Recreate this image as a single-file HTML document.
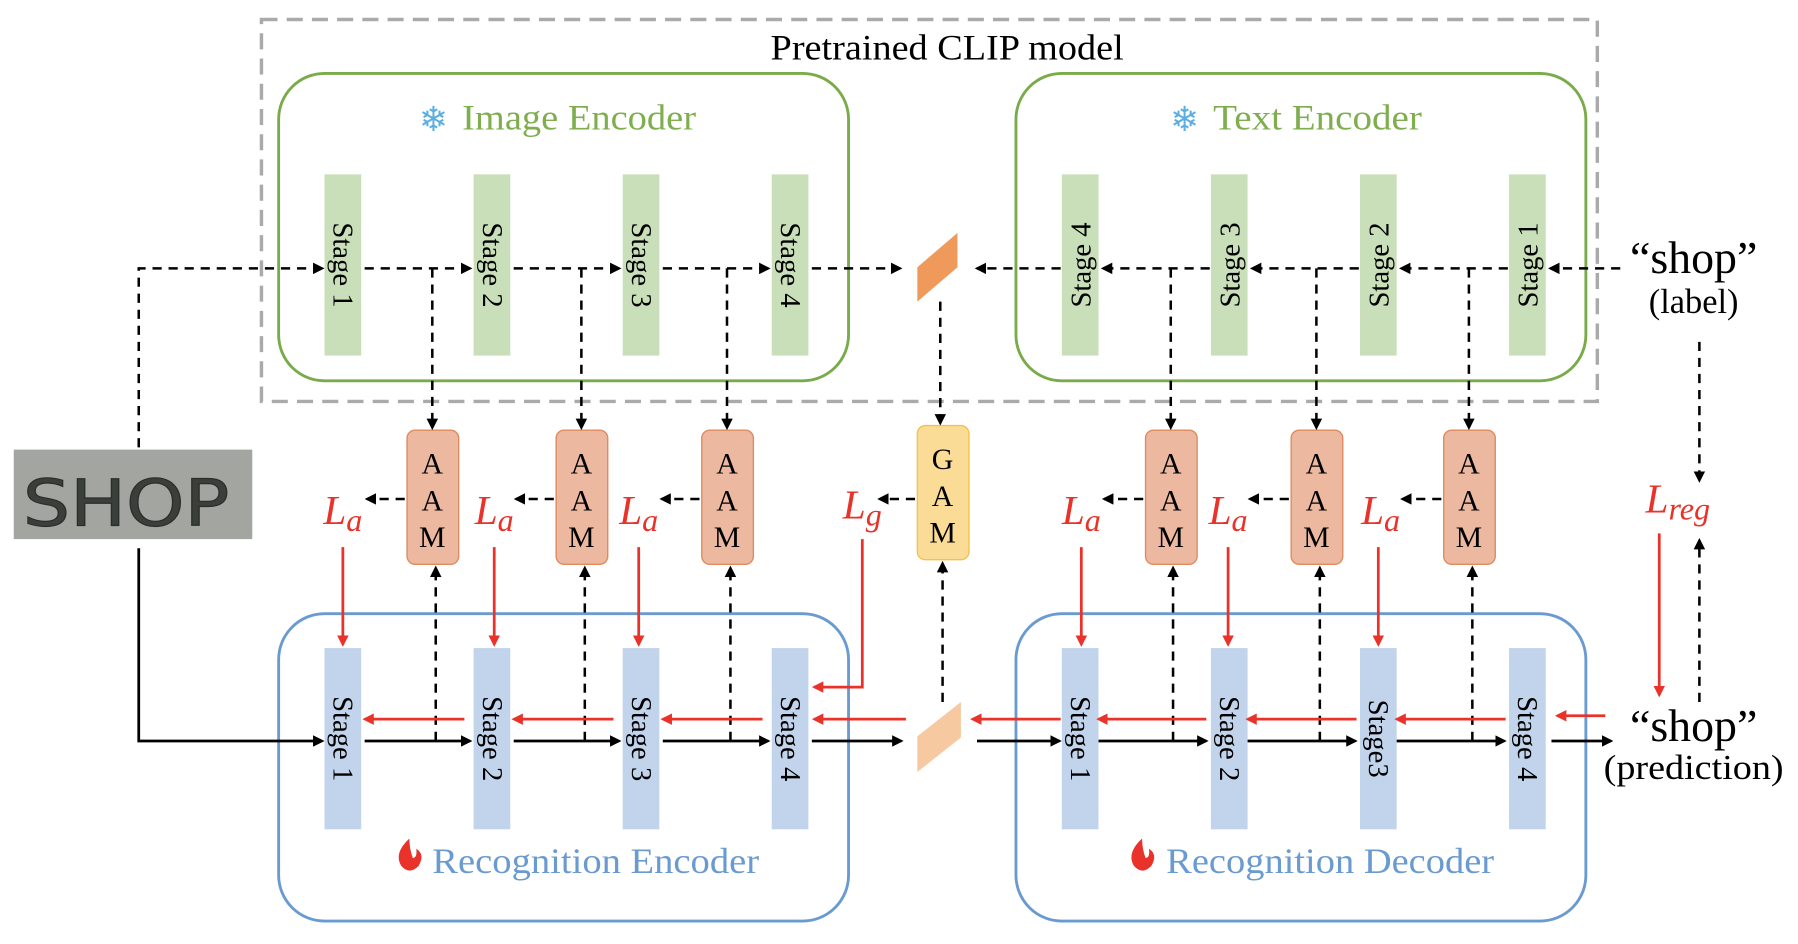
<!DOCTYPE html>
<html><head><meta charset="utf-8"><style>html,body{margin:0;padding:0;background:#fff}svg{display:block}</style></head><body>
<svg width="1798" height="944" viewBox="0 0 1568 823" preserveAspectRatio="none" xmlns="http://www.w3.org/2000/svg" font-family="Liberation Serif, serif">
<defs>
<marker id="ak" markerWidth="10" markerHeight="10" refX="8" refY="5" orient="auto" markerUnits="userSpaceOnUse"><path d="M0,0 L10,5 L0,10 z" fill="#000"/></marker>
<marker id="ar" markerWidth="10" markerHeight="10" refX="8" refY="5" orient="auto" markerUnits="userSpaceOnUse"><path d="M0,0 L10,5 L0,10 z" fill="#e8322a"/></marker>
</defs>
<rect x="228" y="17" width="1165" height="333" fill="none" stroke="#aaa" stroke-width="3" stroke-dasharray="14,8"/>
<text x="826" y="52" font-size="31" text-anchor="middle" textLength="308" lengthAdjust="spacingAndGlyphs">Pretrained CLIP model</text>
<rect x="243" y="64" width="497" height="268" rx="40" fill="none" stroke="#7aab4a" stroke-width="2.5"/>
<rect x="886" y="64" width="497" height="268" rx="40" fill="none" stroke="#7aab4a" stroke-width="2.5"/>
<text x="403" y="113" font-size="31" fill="#7fae4f" textLength="204" lengthAdjust="spacingAndGlyphs">Image Encoder</text>
<text x="1058" y="113" font-size="31" fill="#7fae4f" textLength="182" lengthAdjust="spacingAndGlyphs">Text Encoder</text>
<text x="378" y="114" font-size="30" fill="#5aaee0" text-anchor="middle">❄</text>
<text x="1033" y="114" font-size="30" fill="#5aaee0" text-anchor="middle">❄</text>
<rect x="243" y="535" width="497" height="268" rx="40" fill="none" stroke="#6a9bd0" stroke-width="2.5"/>
<rect x="886" y="535" width="497" height="268" rx="40" fill="none" stroke="#6a9bd0" stroke-width="2.5"/>
<text x="377" y="761" font-size="31" fill="#6a9bd0" textLength="285" lengthAdjust="spacingAndGlyphs">Recognition Encoder</text>
<text x="1017" y="761" font-size="31" fill="#6a9bd0" textLength="286" lengthAdjust="spacingAndGlyphs">Recognition Decoder</text>
<path d="M357,731 q-14,13 -7,24 q7,8 15,0 q6,-10 -2,-15 q1,8 -3,8 q-3,-8 -3,-17z" fill="#e8322a"/>
<path d="M996,731 q-14,13 -7,24 q7,8 15,0 q6,-10 -2,-15 q1,8 -3,8 q-3,-8 -3,-17z" fill="#e8322a"/>
<g font-size="25">
<g fill="#c9dfb9"><rect x="283" y="152" width="32" height="158"/><rect x="413" y="152" width="32" height="158"/><rect x="543" y="152" width="32" height="158"/><rect x="673" y="152" width="32" height="158"/><rect x="926" y="152" width="32" height="158"/><rect x="1056" y="152" width="32" height="158"/><rect x="1186" y="152" width="32" height="158"/><rect x="1316" y="152" width="32" height="158"/></g>
<g fill="#c2d4ec"><rect x="283" y="565" width="32" height="158"/><rect x="413" y="565" width="32" height="158"/><rect x="543" y="565" width="32" height="158"/><rect x="673" y="565" width="32" height="158"/><rect x="926" y="565" width="32" height="158"/><rect x="1056" y="565" width="32" height="158"/><rect x="1186" y="565" width="32" height="158"/><rect x="1316" y="565" width="32" height="158"/></g>
<g text-anchor="middle">
<text transform="translate(291,231) rotate(90)">Stage 1</text>
<text transform="translate(421,231) rotate(90)">Stage 2</text>
<text transform="translate(551,231) rotate(90)">Stage 3</text>
<text transform="translate(681,231) rotate(90)">Stage 4</text>
<text transform="translate(951,231) rotate(-90)">Stage 4</text>
<text transform="translate(1081,231) rotate(-90)">Stage 3</text>
<text transform="translate(1211,231) rotate(-90)">Stage 2</text>
<text transform="translate(1341,231) rotate(-90)">Stage 1</text>
<text transform="translate(291,644) rotate(90)">Stage 1</text>
<text transform="translate(421,644) rotate(90)">Stage 2</text>
<text transform="translate(551,644) rotate(90)">Stage 3</text>
<text transform="translate(681,644) rotate(90)">Stage 4</text>
<text transform="translate(934,644) rotate(90)">Stage 1</text>
<text transform="translate(1064,644) rotate(90)">Stage 2</text>
<text transform="translate(1194,644) rotate(90)">Stage3</text>
<text transform="translate(1324,644) rotate(90)">Stage 4</text>
</g></g>
<polygon points="800,233 835,203 835,233 800,263" fill="#ef9a5a"/>
<polygon points="800,642 838,612 838,643 800,673" fill="#f6c9a0"/>
<g fill="#ecb9a0" stroke="#e08a60" stroke-width="1.2">
<rect x="355" y="375" width="45" height="117" rx="7"/><rect x="485" y="375" width="45" height="117" rx="7"/><rect x="612" y="375" width="45" height="117" rx="7"/>
<rect x="999" y="375" width="45" height="117" rx="7"/><rect x="1126" y="375" width="45" height="117" rx="7"/><rect x="1259" y="375" width="45" height="117" rx="7"/>
</g>
<rect x="800" y="371" width="45" height="117" rx="7" fill="#fbdc97" stroke="#f5c04c" stroke-width="1.2"/>
<g font-size="26" text-anchor="middle">
<text x="377" y="413">A</text><text x="377" y="445">A</text><text x="377" y="477">M</text>
<text x="507" y="413">A</text><text x="507" y="445">A</text><text x="507" y="477">M</text>
<text x="634" y="413">A</text><text x="634" y="445">A</text><text x="634" y="477">M</text>
<text x="1021" y="413">A</text><text x="1021" y="445">A</text><text x="1021" y="477">M</text>
<text x="1148" y="413">A</text><text x="1148" y="445">A</text><text x="1148" y="477">M</text>
<text x="1281" y="413">A</text><text x="1281" y="445">A</text><text x="1281" y="477">M</text>
<text x="822" y="409">G</text><text x="822" y="441">A</text><text x="822" y="473">M</text>
</g>
<g fill="#e8322a" font-style="italic" font-size="36">
<text x="282" y="457">L<tspan font-size="28" dy="6">a</tspan></text>
<text x="414" y="457">L<tspan font-size="28" dy="6">a</tspan></text>
<text x="540" y="457">L<tspan font-size="28" dy="6">a</tspan></text>
<text x="735" y="452">L<tspan font-size="28" dy="6">g</tspan></text>
<text x="926" y="457">L<tspan font-size="28" dy="6">a</tspan></text>
<text x="1054" y="457">L<tspan font-size="28" dy="6">a</tspan></text>
<text x="1187" y="457">L<tspan font-size="28" dy="6">a</tspan></text>
<text x="1435" y="447">L<tspan font-size="28" dy="6">reg</tspan></text>
</g>
<rect x="12" y="392" width="208" height="78" fill="#a3a5a0"/>
<text x="110" y="458" font-family="DejaVu Sans, sans-serif" font-size="56" fill="#3a3f3a" stroke="#2a2e2a" stroke-width="1" text-anchor="middle" textLength="180" lengthAdjust="spacingAndGlyphs">SHOP</text>
<g font-size="40" text-anchor="middle"><text x="1477" y="238">“shop”</text><text x="1477" y="646">“shop”</text></g>
<g font-size="30" text-anchor="middle"><text x="1477" y="273">(label)</text><text x="1477" y="679" textLength="157" lengthAdjust="spacingAndGlyphs">(prediction)</text></g>
<g stroke="#000" stroke-width="2.2" fill="none" stroke-dasharray="8,6">
<path d="M121,390 V234 H281" marker-end="url(#ak)"/>
<path d="M318,234 H410" marker-end="url(#ak)"/><path d="M448,234 H540" marker-end="url(#ak)"/><path d="M578,234 H670" marker-end="url(#ak)"/><path d="M708,234 H785" marker-end="url(#ak)"/>
<path d="M1413,234 H1352" marker-end="url(#ak)"/><path d="M1315,234 H1222" marker-end="url(#ak)"/><path d="M1185,234 H1092" marker-end="url(#ak)"/><path d="M1055,234 H962" marker-end="url(#ak)"/><path d="M925,234 H852" marker-end="url(#ak)"/>
<path d="M377,234 V373" marker-end="url(#ak)"/><path d="M507,234 V373" marker-end="url(#ak)"/><path d="M634,234 V373" marker-end="url(#ak)"/>
<path d="M1021,234 V373" marker-end="url(#ak)"/><path d="M1148,234 V373" marker-end="url(#ak)"/><path d="M1281,234 V373" marker-end="url(#ak)"/>
<path d="M820,263 V369" marker-end="url(#ak)"/>
<path d="M380,646 V495" marker-end="url(#ak)"/><path d="M510,646 V495" marker-end="url(#ak)"/><path d="M637,646 V495" marker-end="url(#ak)"/>
<path d="M1023,646 V495" marker-end="url(#ak)"/><path d="M1151,646 V495" marker-end="url(#ak)"/><path d="M1284,646 V495" marker-end="url(#ak)"/>
<path d="M822,612 V491" marker-end="url(#ak)"/>
<path d="M353,435 H320" marker-end="url(#ak)"/><path d="M483,435 H450" marker-end="url(#ak)"/><path d="M610,435 H577" marker-end="url(#ak)"/><path d="M798,435 H767" marker-end="url(#ak)"/>
<path d="M997,435 H963" marker-end="url(#ak)"/><path d="M1124,435 H1090" marker-end="url(#ak)"/><path d="M1257,435 H1223" marker-end="url(#ak)"/>
<path d="M1482,298 V419" marker-end="url(#ak)"/><path d="M1482,612 V471" marker-end="url(#ak)"/>
</g>
<g stroke="#000" stroke-width="2.4" fill="none">
<path d="M121,478 V646 H281" marker-end="url(#ak)"/>
<path d="M318,646 H410" marker-end="url(#ak)"/><path d="M448,646 H540" marker-end="url(#ak)"/><path d="M578,646 H670" marker-end="url(#ak)"/><path d="M708,646 H786" marker-end="url(#ak)"/>
<path d="M852,646 H924" marker-end="url(#ak)"/><path d="M958,646 H1052" marker-end="url(#ak)"/><path d="M1088,646 H1182" marker-end="url(#ak)"/><path d="M1218,646 H1312" marker-end="url(#ak)"/><path d="M1353,646 H1405" marker-end="url(#ak)"/>
</g>
<g stroke="#e8322a" stroke-width="2.4" fill="none">
<path d="M405,627 H318" marker-end="url(#ar)"/><path d="M535,627 H448" marker-end="url(#ar)"/><path d="M665,627 H578" marker-end="url(#ar)"/><path d="M790,627 H710" marker-end="url(#ar)"/>
<path d="M925,627 H848" marker-end="url(#ar)"/><path d="M1052,627 H958" marker-end="url(#ar)"/><path d="M1183,627 H1088" marker-end="url(#ar)"/><path d="M1313,627 H1218" marker-end="url(#ar)"/><path d="M1400,624 H1358" marker-end="url(#ar)"/>
<path d="M299,477 V562" marker-end="url(#ar)"/><path d="M431,477 V562" marker-end="url(#ar)"/><path d="M557,477 V562" marker-end="url(#ar)"/>
<path d="M943,477 V562" marker-end="url(#ar)"/><path d="M1071,477 V562" marker-end="url(#ar)"/><path d="M1202,477 V562" marker-end="url(#ar)"/>
<path d="M752,470 V599 H710" marker-end="url(#ar)"/>
<path d="M1447,465 V606" marker-end="url(#ar)"/>
</g>
</svg>
</body></html>
